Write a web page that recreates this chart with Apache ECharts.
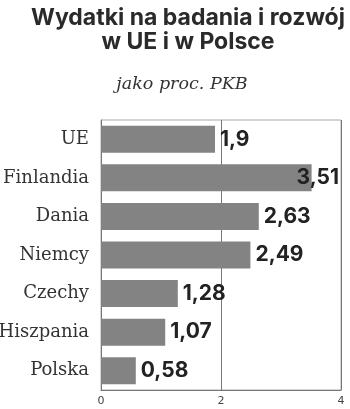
<!DOCTYPE html>
<html>
<head>
<meta charset="utf-8">
<script src="https://cdn.jsdelivr.net/npm/echarts@6/dist/echarts.min.js"></script>
<style>
html,body{margin:0;padding:0;background:#fff;}
#chart{width:350px;height:409px;}
</style>
</head>
<body>
<div id="chart"></div>
<script>
var categories = ['UE', 'Finlandia', 'Dania', 'Niemcy', 'Czechy', 'Hiszpania', 'Polska'];
var values = [1.9, 3.51, 2.63, 2.49, 1.28, 1.07, 0.58];
var valueLabels = ['1,9', '3,51', '2,63', '2,49', '1,28', '1,07', '0,58'];
var xTicks = [0, 2, 4];

var chart = echarts.init(document.getElementById('chart'), null, {renderer: 'canvas'});

var seriesData = values.map(function (v, i) {
  var item = {value: v};
  if (categories[i] === 'Finlandia') {
    item.label = {offset: [-20, 0]};
  }
  return item;
});

chart.setOption({
  animation: false,
  backgroundColor: '#fff',
  title: [{
    text: 'Wydatki na badania i rozwój\nw UE i w Polsce',
    left: 183,
    top: 1,
    textAlign: 'center',
    textStyle: {fontFamily: 'Inter', fontWeight: 'bold', fontSize: 23, lineHeight: 24, color: '#2a2a2a'}
  }, {
    text: 'jako proc. PKB',
    left: 177,
    top: 70,
    textAlign: 'center',
    textStyle: {fontFamily: 'DejaVu Serif', fontStyle: 'italic', fontWeight: 'normal', fontSize: 17.5, color: '#333'}
  }],
  grid: {
    left: 101, right: 9, top: 120, bottom: 19,
    outerBoundsMode: 'none',
    containLabel: false,
    show: true, borderColor: '#aaa', borderWidth: 1
  },
  xAxis: {
    type: 'value',
    min: xTicks[0],
    max: xTicks[xTicks.length - 1],
    interval: 2,
    axisLine: {show: true, lineStyle: {color: '#777'}},
    axisTick: {show: false},
    splitLine: {show: true, lineStyle: {color: '#777', width: 1}},
    axisLabel: {fontFamily: 'DejaVu Sans', fontSize: 11, color: '#444', margin: 6,
      formatter: function (v) { return String(v); }}
  },
  yAxis: {
    type: 'category',
    data: categories,
    inverse: true,
    axisLine: {show: true, lineStyle: {color: '#777'}},
    axisTick: {show: false},
    axisLabel: {fontFamily: 'DejaVu Serif', fontSize: 18, color: '#333', margin: 12}
  },
  series: [{
    type: 'bar',
    data: seriesData,
    barWidth: '70%',
    itemStyle: {color: '#838383'},
    label: {
      show: true,
      position: 'right',
      distance: 5,
      fontFamily: 'Inter',
      fontWeight: 'bold',
      fontSize: 21,
      color: '#222',
      formatter: function (p) { return valueLabels[p.dataIndex]; }
    }
  }]
});
</script>
</body>
</html>
